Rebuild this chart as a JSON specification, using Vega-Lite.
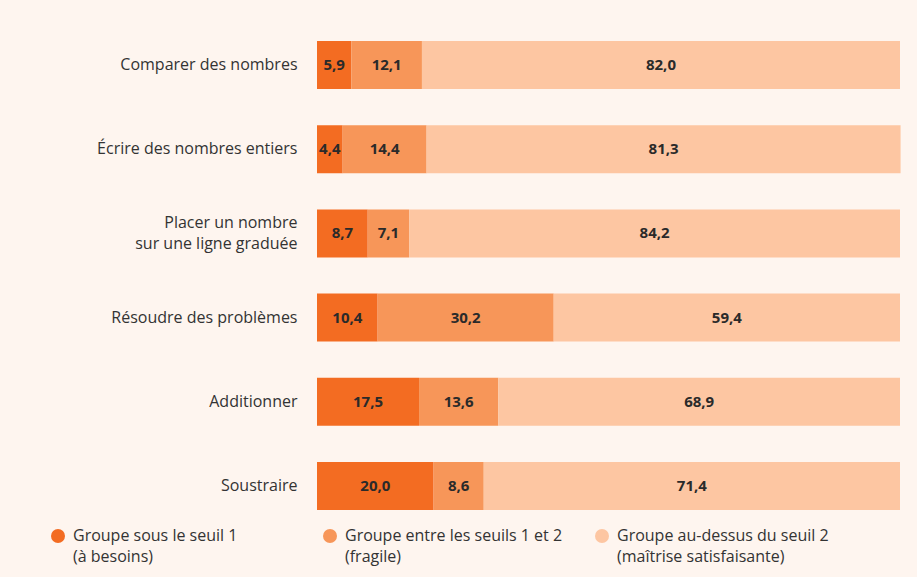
{
  "$schema": "https://vega.github.io/schema/vega-lite/v6.json",
  "width": 583,
  "height": 505,
  "autosize": "none",
  "padding": {"left": 317, "top": 23, "right": 17, "bottom": 49},
  "background": "#FEF5EF",
  "config": {
    "view": {"stroke": null},
    "font": "Open Sans",
    "style": {"guide-label": {"lineHeight": 21}},
    "locale": {"number": {"decimal": ",", "thousands": " ", "grouping": [3], "currency": ["", " €"]}}
  },
  "data": {
    "values": [
      {"tache": "Comparer des nombres", "groupe": "Groupe sous le seuil 1|(à besoins)", "rang": 1, "valeur": 5.9},
      {"tache": "Comparer des nombres", "groupe": "Groupe entre les seuils 1 et 2|(fragile)", "rang": 2, "valeur": 12.1},
      {"tache": "Comparer des nombres", "groupe": "Groupe au-dessus du seuil 2|(maîtrise satisfaisante)", "rang": 3, "valeur": 82.0},
      {"tache": "Écrire des nombres entiers", "groupe": "Groupe sous le seuil 1|(à besoins)", "rang": 1, "valeur": 4.4},
      {"tache": "Écrire des nombres entiers", "groupe": "Groupe entre les seuils 1 et 2|(fragile)", "rang": 2, "valeur": 14.4},
      {"tache": "Écrire des nombres entiers", "groupe": "Groupe au-dessus du seuil 2|(maîtrise satisfaisante)", "rang": 3, "valeur": 81.3},
      {"tache": "Placer un nombre|sur une ligne graduée", "groupe": "Groupe sous le seuil 1|(à besoins)", "rang": 1, "valeur": 8.7},
      {"tache": "Placer un nombre|sur une ligne graduée", "groupe": "Groupe entre les seuils 1 et 2|(fragile)", "rang": 2, "valeur": 7.1},
      {"tache": "Placer un nombre|sur une ligne graduée", "groupe": "Groupe au-dessus du seuil 2|(maîtrise satisfaisante)", "rang": 3, "valeur": 84.2},
      {"tache": "Résoudre des problèmes", "groupe": "Groupe sous le seuil 1|(à besoins)", "rang": 1, "valeur": 10.4},
      {"tache": "Résoudre des problèmes", "groupe": "Groupe entre les seuils 1 et 2|(fragile)", "rang": 2, "valeur": 30.2},
      {"tache": "Résoudre des problèmes", "groupe": "Groupe au-dessus du seuil 2|(maîtrise satisfaisante)", "rang": 3, "valeur": 59.4},
      {"tache": "Additionner", "groupe": "Groupe sous le seuil 1|(à besoins)", "rang": 1, "valeur": 17.5},
      {"tache": "Additionner", "groupe": "Groupe entre les seuils 1 et 2|(fragile)", "rang": 2, "valeur": 13.6},
      {"tache": "Additionner", "groupe": "Groupe au-dessus du seuil 2|(maîtrise satisfaisante)", "rang": 3, "valeur": 68.9},
      {"tache": "Soustraire", "groupe": "Groupe sous le seuil 1|(à besoins)", "rang": 1, "valeur": 20.0},
      {"tache": "Soustraire", "groupe": "Groupe entre les seuils 1 et 2|(fragile)", "rang": 2, "valeur": 8.6},
      {"tache": "Soustraire", "groupe": "Groupe au-dessus du seuil 2|(maîtrise satisfaisante)", "rang": 3, "valeur": 71.4}
    ]
  },
  "transform": [
    {"stack": "valeur", "groupby": ["tache"], "sort": [{"field": "rang", "order": "ascending"}], "as": ["v0", "v1"]},
    {"calculate": "(datum.v0 + datum.v1) / 2", "as": "milieu"}
  ],
  "encoding": {
    "y": {
      "field": "tache",
      "type": "nominal",
      "sort": null,
      "title": null,
      "scale": {"paddingInner": 0.43, "paddingOuter": 0.215},
      "axis": {
        "domain": false,
        "ticks": false,
        "labelPadding": 20,
        "labelFontSize": 16,
        "labelColor": "#333333",
        "labelLimit": 300,
        "labelLineHeight": 21,
        "labelOffset": {"condition": {"test": "indexof(datum.value, '|') >= 0", "value": -10}, "value": 0},
        "labelExpr": "split(datum.label, '|')"
      }
    }
  },
  "layer": [
    {
      "mark": {"type": "bar"},
      "encoding": {
        "x": {"field": "v0", "type": "quantitative", "scale": {"domain": [0, 100], "nice": false}, "axis": null},
        "x2": {"field": "v1"},
        "color": {
          "field": "groupe",
          "type": "nominal",
          "scale": {
            "domain": ["Groupe sous le seuil 1|(à besoins)", "Groupe entre les seuils 1 et 2|(fragile)", "Groupe au-dessus du seuil 2|(maîtrise satisfaisante)"],
            "range": ["#F36C22", "#F79659", "#FDC6A2"]
          },
          "legend": {
            "title": null,
            "orient": "none",
            "legendX": -267,
            "legendY": 505,
            "direction": "horizontal",
            "columns": 3,
            "gridAlign": "all",
            "columnPadding": 31,
            "symbolType": "circle",
            "symbolSize": 196,
            "symbolStrokeWidth": 0,
            "labelFontSize": 16,
            "labelColor": "#333333",
            "labelOffset": 7,
            "labelLimit": 300,
            "labelBaseline": "middle",
            "labelExpr": "split(datum.label, '|')"
          }
        }
      }
    },
    {
      "mark": {"type": "text", "fontSize": 15, "fontWeight": "bold", "color": "#2A2A2A"},
      "encoding": {
        "x": {"field": "milieu", "type": "quantitative"},
        "text": {"field": "valeur", "type": "quantitative", "format": ".1f"}
      }
    }
  ]
}
